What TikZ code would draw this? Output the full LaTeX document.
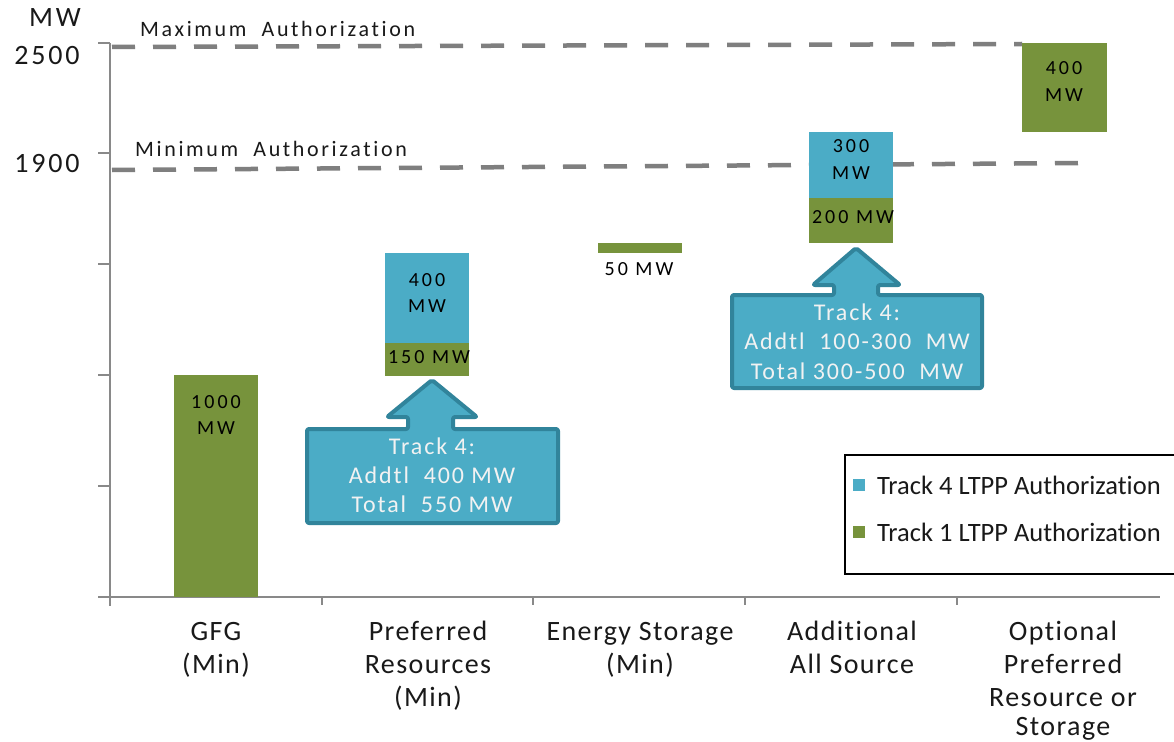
\documentclass[tikz,border=0pt]{standalone}
\usepackage{fontspec}
\setmainfont[Ligatures=NoCommon]{Carlito}
\newfontfamily\fnCat[LetterSpace=5,Ligatures=NoCommon]{Carlito}
\newfontfamily\fnMax[LetterSpace=12,Ligatures=NoCommon]{Carlito}
\newfontfamily\fnBar[LetterSpace=15,Ligatures=NoCommon]{Carlito}
\newfontfamily\fnCall[LetterSpace=8,Ligatures=NoCommon]{Carlito}
\newfontfamily\fnAxis[LetterSpace=10,Ligatures=NoCommon]{Carlito}
\newfontfamily\fnLeg[Ligatures=NoCommon]{Carlito}
\definecolor{tfourblue}{HTML}{4BACC6}
\definecolor{toneGreen}{HTML}{77933C}
\definecolor{callEdge}{HTML}{31849B}
\definecolor{axisGray}{HTML}{898989}
\definecolor{dashGray}{HTML}{7F7F7F}
\begin{document}
\begin{tikzpicture}[x=1pt,y=-1pt,
  catlbl/.style={anchor=base,inner sep=0pt,font={\fnCat\fontsize{28}{33}\selectfont},text=black!90},
  barlbl/.style={anchor=base,inner sep=0pt,font={\fnBar\fontsize{20}{24}\selectfont},text=black},
  calltxt/.style={anchor=base,inner sep=0pt,font={\fnCall\fontsize{24}{28}\selectfont},text=white!95!black},
  axislbl/.style={anchor=base,inner sep=0pt,font={\fnAxis\fontsize{28}{33}\selectfont},text=black!90},
  authlbl/.style={anchor=base west,inner sep=0pt,font={\fnMax\fontsize{22}{26}\selectfont},text=black!90},
  leglbl/.style={anchor=base west,inner sep=0pt,font={\fnLeg\fontsize{26.5}{30}\selectfont},text=black!90},
  authline/.style={draw=dashGray,line width=4.5pt,dash pattern=on 23pt off 18pt},
  axisline/.style={draw=axisGray,line width=2pt},
  callout/.style={draw=callEdge,fill=tfourblue,line width=4pt,line join=round,rounded corners=2pt}
]
\clip (0,0) rectangle (1174,741);
\fill[white] (0,0) rectangle (1174,741);

% axes
\coordinate (ytop) at (110,43);
\coordinate (ybot) at (110,606);
\coordinate (xleft) at (98,597);
\coordinate (xright) at (1160,597);
\draw[axisline] (ytop) -- (ybot);
\draw[axisline] (xleft) -- (xright);
\foreach \yy in {43,153,264,375,486} \draw[axisline] (98,\yy) -- (110,\yy);
\foreach \xx in {322,533,745,957} \draw[axisline] (\xx,597) -- (\xx,605);

% axis labels
\node[axislbl] (mw) at (55,27) {MW};
\node[axislbl] (v2500) at (47,65) {2500};
\node[axislbl] (v1900) at (47,172) {1900};

% authorization lines
\coordinate (maxL) at (112,47);
\coordinate (maxR) at (1022,44);
\coordinate (minL) at (112,170);
\coordinate (minR) at (1084,163);
\draw[authline] (maxL) -- (maxR);
\draw[authline] (minL) -- (minR);
\node[authlbl] (maxlbl) at (140,37) {Maximum\ \ Authorization};
\node[authlbl] (minlbl) at (135,156) {Minimum\ \ Authorization};

% bars
\fill[toneGreen] (174,375) rectangle (258,597);
\fill[tfourblue] (385,253) rectangle (469,343);
\fill[toneGreen] (385,343) rectangle (469,376);
\fill[toneGreen] (598,243) rectangle (682,253);
\fill[tfourblue] (809,132) rectangle (893,198);
\fill[toneGreen] (809,198) rectangle (893,243);
\fill[toneGreen] (1022,43) rectangle (1107,132);

% bar labels
\node[barlbl] (gfgA) at (216,408) {1000};
\node[barlbl] (gfgB) at (216,434) {MW};
\node[barlbl] (prA) at (427,286) {400};
\node[barlbl] (prB) at (427,312) {MW};
\node[barlbl] (prC) at (429,363) {150 MW};
\node[barlbl] (esA) at (639,275) {50 MW};
\node[barlbl] (asA) at (851,152) {300};
\node[barlbl] (asB) at (851,179) {MW};
\node[barlbl] (asC) at (853,223) {200 MW};
\node[barlbl] (opA) at (1064,75) {400};
\node[barlbl] (opB) at (1064,102) {MW};

% callout 1
\draw[callout] (307,523) -- (307,429) -- (408,429) -- (408,417) -- (387,417)
  -- (432,380) -- (477,417) -- (453,417) -- (453,429) -- (558,429) -- (558,523) -- cycle;
\node[calltxt] (c1a) at (432,454) {Track 4:};
\node[calltxt] (c1b) at (432,483) {Addtl\ \ 400 MW};
\node[calltxt] (c1c) at (432,512) {Total\ \ 550 MW};

% callout 2
\draw[callout] (732,388) -- (732,295) -- (834,295) -- (834,285) -- (813,285)
  -- (856,248) -- (900,285) -- (878,285) -- (878,295) -- (982,295) -- (982,388) -- cycle;
\node[calltxt] (c2a) at (857,320) {Track 4:};
\node[calltxt] (c2b) at (857,349) {Addtl\ \ 100-300\ \ MW};
\node[calltxt] (c2c) at (857,379) {Total 300-500\ \ MW};

% legend
\draw[black,line width=2pt,fill=white] (845,455) rectangle (1190,574);
\fill[tfourblue] (853,479) rectangle (865,491);
\fill[toneGreen] (853,526) rectangle (865,538);
\node[leglbl] (leg4) at (877,494) {Track 4 LTPP Authorization};
\node[leglbl] (leg1) at (877,541) {Track 1 LTPP Authorization};

% category labels
\node[catlbl] (cat1a) at (216,640) {GFG};
\node[catlbl] (cat1b) at (216,673) {(Min)};
\node[catlbl] (cat2a) at (428,640) {Preferred};
\node[catlbl] (cat2b) at (428,673) {Resources};
\node[catlbl] (cat2c) at (428,706) {(Min)};
\node[catlbl] (cat3a) at (640,640) {Energy Storage};
\node[catlbl] (cat3b) at (640,673) {(Min)};
\node[catlbl] (cat4a) at (852,640) {Additional};
\node[catlbl] (cat4b) at (852,673) {All Source};
\node[catlbl] (cat5a) at (1063,640) {Optional};
\node[catlbl] (cat5b) at (1063,673) {Preferred};
\node[catlbl] (cat5c) at (1063,706) {Resource or};
\node[catlbl] (cat5d) at (1063,735) {Storage};
\end{tikzpicture}
\end{document}
